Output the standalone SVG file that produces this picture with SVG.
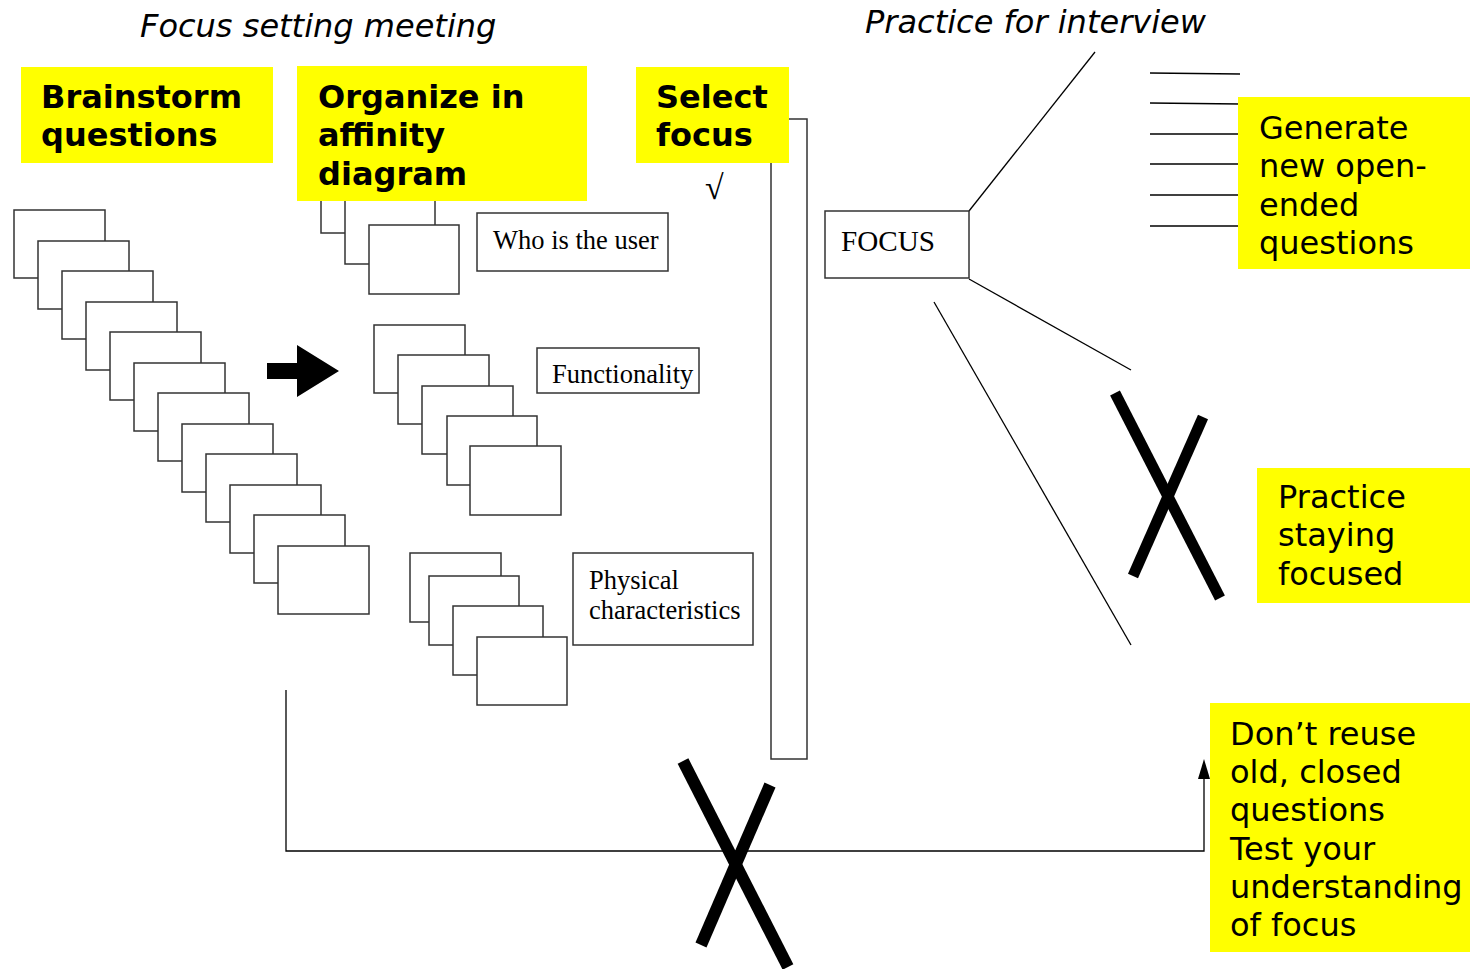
<svg xmlns="http://www.w3.org/2000/svg" width="1470" height="969" viewBox="0 0 1470 969">
<defs>
<style>
.card{fill:#fff;stroke:#333;stroke-width:1.5}
.lbl{fill:#fff;stroke:#333;stroke-width:1.5}
.ln{fill:none;stroke:#000;stroke-width:1.3}
.yel{fill:#ffff00}
.hdr{font-family:"DejaVu Sans","Liberation Sans",sans-serif;font-weight:bold;font-size:32px;fill:#000}
.body{font-family:"DejaVu Sans","Liberation Sans",sans-serif;font-size:32px;fill:#000}
.ttl{font-family:"DejaVu Sans","Liberation Sans",sans-serif;font-style:italic;font-size:32px;fill:#000}
.ser{font-family:"Liberation Serif","Times New Roman",serif;font-size:26.5px;fill:#000}
.x{stroke:#000;stroke-width:11;fill:none}
</style>
</defs>
<rect width="1470" height="969" fill="#fff"/>
<text class="ttl" x="140" y="37">Focus setting meeting</text>
<text class="ttl" x="865" y="33">Practice for interview</text>

<g id="brainstorm-stack">
<rect class="card" x="14" y="210" width="91" height="68"/>
<rect class="card" x="38" y="241" width="91" height="68"/>
<rect class="card" x="62" y="271" width="91" height="68"/>
<rect class="card" x="86" y="302" width="91" height="68"/>
<rect class="card" x="110" y="332" width="91" height="68"/>
<rect class="card" x="134" y="363" width="91" height="68"/>
<rect class="card" x="158" y="393" width="91" height="68"/>
<rect class="card" x="182" y="424" width="91" height="68"/>
<rect class="card" x="206" y="454" width="91" height="68"/>
<rect class="card" x="230" y="485" width="91" height="68"/>
<rect class="card" x="254" y="515" width="91" height="68"/>
<rect class="card" x="278" y="546" width="91" height="68"/>
</g>
<g id="brainstorm">
<rect class="yel" x="21" y="67" width="252" height="96"/>
<text class="hdr" x="41" y="108">Brainstorm</text>
<text class="hdr" x="41" y="146">questions</text>
</g>

<g id="big-arrow">
<polygon points="267,363 297,363 297,345 339,371 297,397 297,379 267,379" fill="#000"/>
</g>

<g id="who-stack">
<rect class="card" x="321" y="165" width="90" height="68"/>
<rect class="card" x="345" y="195" width="90" height="69"/>
<rect class="card" x="369" y="225" width="90" height="69"/>
</g>
<g id="organize">
<rect class="yel" x="297" y="66" width="290" height="135"/>
<text class="hdr" x="318" y="108">Organize in</text>
<text class="hdr" x="318" y="146">affinity</text>
<text class="hdr" x="318" y="185">diagram</text>
</g>
<g id="who">
<rect class="lbl" x="477" y="213" width="191" height="58"/>
<text class="ser" x="493" y="249">Who is the user</text>
</g>

<g id="func-stack">
<rect class="card" x="374" y="325" width="91" height="68"/>
<rect class="card" x="398" y="355" width="91" height="69"/>
<rect class="card" x="422" y="386" width="91" height="68"/>
<rect class="card" x="447" y="416" width="90" height="69"/>
<rect class="card" x="470" y="446" width="91" height="69"/>
</g>
<g id="functionality">
<rect class="lbl" x="537" y="348" width="162" height="45"/>
<text class="ser" x="552" y="383">Functionality</text>
</g>

<g id="phys-stack">
<rect class="card" x="410" y="553" width="91" height="69"/>
<rect class="card" x="429" y="576" width="90" height="69"/>
<rect class="card" x="453" y="606" width="90" height="69"/>
<rect class="card" x="477" y="637" width="90" height="68"/>
</g>
<g id="physical">
<rect class="lbl" x="573" y="553" width="180" height="92"/>
<text class="ser" x="589" y="589">Physical</text>
<text class="ser" x="589" y="619">characteristics</text>
</g>

<g id="bracket">
<rect class="card" x="771" y="119" width="36" height="640"/>
</g>
<g id="select">
<rect class="yel" x="636" y="67" width="153" height="96"/>
<text class="hdr" x="656" y="108">Select</text>
<text class="hdr" x="656" y="146">focus</text>
</g>
<text class="ser" x="705" y="199" style="font-size:34px">√</text>

<g id="connectors">
<line class="ln" x1="969" y1="211" x2="1095" y2="52"/>
<line class="ln" x1="969" y1="279" x2="1131" y2="370"/>
<line class="ln" x1="934" y1="302" x2="1131" y2="645"/>
<line class="ln" x1="1150" y1="73" x2="1240" y2="74"/>
<line class="ln" x1="1150" y1="103" x2="1240" y2="104"/>
<line class="ln" x1="1150" y1="134" x2="1240" y2="134"/>
<line class="ln" x1="1150" y1="164" x2="1240" y2="164"/>
<line class="ln" x1="1150" y1="195" x2="1240" y2="195"/>
<line class="ln" x1="1150" y1="226" x2="1240" y2="226"/>
<polyline class="ln" points="286,690 286,851 1204,851 1204,776"/>
<polygon points="1204,759 1198,779 1210,779" fill="#000"/>
</g>

<g id="focus">
<rect class="lbl" x="825" y="211" width="144" height="67"/>
<text class="ser" x="841" y="251" style="font-size:30px" textLength="94" lengthAdjust="spacingAndGlyphs">FOCUS</text>
</g>

<g id="generate">
<rect class="yel" x="1238" y="97" width="232" height="172"/>
<text class="body" x="1259" y="139">Generate</text>
<text class="body" x="1259" y="177">new open-</text>
<text class="body" x="1259" y="216">ended</text>
<text class="body" x="1259" y="254">questions</text>
</g>

<g id="practice">
<rect class="yel" x="1257" y="468" width="213" height="135"/>
<text class="body" x="1278" y="508">Practice</text>
<text class="body" x="1278" y="546">staying</text>
<text class="body" x="1278" y="585">focused</text>
</g>

<g id="dont">
<rect class="yel" x="1210" y="703" width="260" height="249"/>
<text class="body" x="1230" y="745">Don’t reuse</text>
<text class="body" x="1230" y="783">old, closed</text>
<text class="body" x="1230" y="821">questions</text>
<text class="body" x="1230" y="860">Test your</text>
<text class="body" x="1230" y="898">understanding</text>
<text class="body" x="1230" y="936">of focus</text>
</g>

<g id="cross-right">
<line class="x" x1="1115" y1="393" x2="1220" y2="598"/>
<line class="x" x1="1203" y1="417" x2="1133" y2="576"/>
</g>
<g id="cross-bottom">
<line class="x" x1="683" y1="761" x2="788" y2="967" style="stroke-width:12px"/>
<line class="x" x1="770" y1="785" x2="701" y2="945" style="stroke-width:12px"/>
</g>
</svg>
